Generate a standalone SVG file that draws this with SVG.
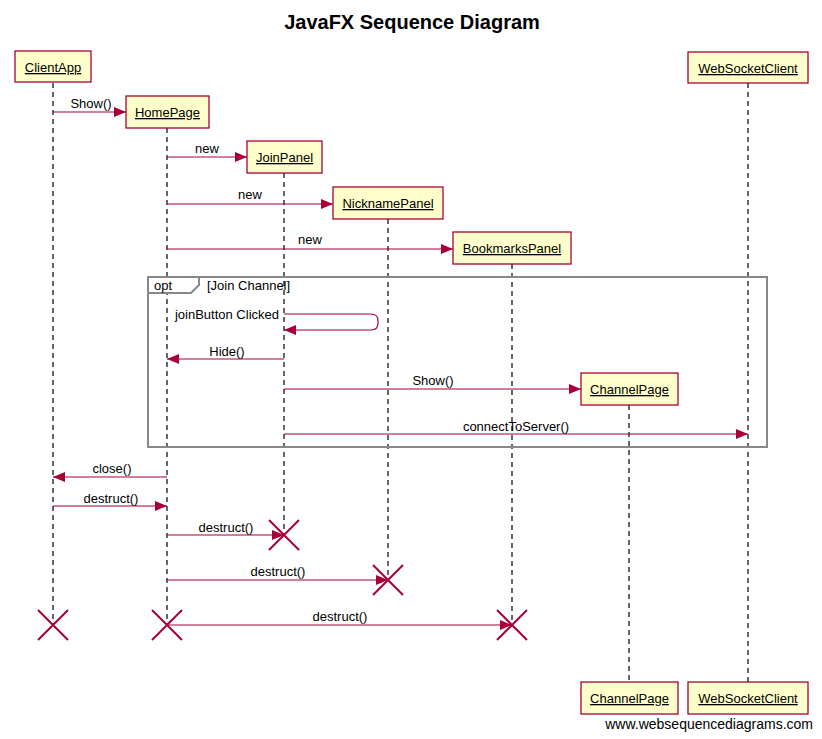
<svg xmlns="http://www.w3.org/2000/svg" width="822" height="739" viewBox="0 0 822 739">
<style>
text{font-family:"Liberation Sans",Arial,sans-serif;fill:#000}
.box rect{fill:#ffffcc;stroke:#a80036;stroke-width:1.3}
.box text{font-size:13px;text-anchor:middle;text-decoration:underline}
.life{stroke:#000;stroke-width:1.2;stroke-dasharray:5,4;fill:none}
.msg{stroke:#a80036;stroke-width:1.2;fill:none}
.lbl{font-size:13px;text-anchor:middle}
.x{stroke:#a80036;stroke-width:2;fill:none}
</style>
<defs>
<marker id="ah" markerWidth="12" markerHeight="10" refX="12" refY="5" orient="auto" markerUnits="userSpaceOnUse">
<path d="M0,0 L12,5 L0,10 Z" fill="#a80036"/>
</marker>
</defs>
<rect width="822" height="739" fill="#fff"/>
<text x="412" y="29" font-size="20" font-weight="bold" text-anchor="middle">JavaFX Sequence Diagram</text>

<g id="lifelines">
<line class="life" x1="53" y1="83" x2="53" y2="625"/>
<line class="life" x1="167" y1="128" x2="167" y2="625"/>
<line class="life" x1="284" y1="173" x2="284" y2="535"/>
<line class="life" x1="388" y1="219" x2="388" y2="580"/>
<line class="life" x1="512" y1="264" x2="512" y2="625"/>
<line class="life" x1="629" y1="405" x2="629" y2="682"/>
<line class="life" x1="748" y1="83" x2="748" y2="682"/>
</g>

<g id="opt-frame">
<rect x="148" y="277" width="619" height="170" fill="none" stroke="#888" stroke-width="2"/>
<path d="M148,277 H199 V285 L191,293 H148 Z" fill="#fff" stroke="#888" stroke-width="2"/>
<text x="154" y="290" font-size="13">opt</text>
<text x="207" y="290" font-size="13">[Join Channel]</text>
</g>

<g id="ClientApp" class="box"><rect x="15" y="51" width="76" height="31"/><text x="53" y="72">ClientApp</text></g>
<g id="HomePage" class="box"><rect x="126" y="96" width="83" height="32"/><text x="167.5" y="117">HomePage</text></g>
<g id="JoinPanel" class="box"><rect x="247" y="141" width="75" height="32"/><text x="284.5" y="162">JoinPanel</text></g>
<g id="NicknamePanel" class="box"><rect x="333" y="187" width="110" height="32"/><text x="388" y="208">NicknamePanel</text></g>
<g id="BookmarksPanel" class="box"><rect x="453" y="232" width="118" height="32"/><text x="512" y="253">BookmarksPanel</text></g>
<g id="ChannelPage" class="box"><rect x="581" y="373" width="97" height="32"/><text x="629.5" y="394">ChannelPage</text></g>
<g id="WebSocketClient" class="box"><rect x="688" y="52" width="120" height="31"/><text x="748" y="73">WebSocketClient</text></g>
<g id="ChannelPage-foot" class="box"><rect x="581" y="682" width="97" height="32"/><text x="629.5" y="703">ChannelPage</text></g>
<g id="WebSocketClient-foot" class="box"><rect x="688" y="682" width="120" height="32"/><text x="748" y="703">WebSocketClient</text></g>

<g id="connectors">
<line class="msg" x1="53" y1="112" x2="126" y2="112" marker-end="url(#ah)"/>
<text class="lbl" x="91" y="108">Show()</text>
<line class="msg" x1="167" y1="157" x2="247" y2="157" marker-end="url(#ah)"/>
<text class="lbl" x="207" y="153">new</text>
<line class="msg" x1="167" y1="204" x2="333" y2="204" marker-end="url(#ah)"/>
<text class="lbl" x="250" y="199">new</text>
<line class="msg" x1="167" y1="249" x2="453" y2="249" marker-end="url(#ah)"/>
<text class="lbl" x="310" y="244">new</text>
<path class="msg" d="M284,314 H371 Q378,314 378,321 V323 Q378,330 371,330 H284" marker-end="url(#ah)"/>
<text x="279" y="319" font-size="13" text-anchor="end">joinButton Clicked</text>
<line class="msg" x1="284" y1="359" x2="167" y2="359" marker-end="url(#ah)"/>
<text class="lbl" x="227" y="356">Hide()</text>
<line class="msg" x1="284" y1="389" x2="581" y2="389" marker-end="url(#ah)"/>
<text class="lbl" x="433" y="385">Show()</text>
<line class="msg" x1="284" y1="434" x2="748" y2="434" marker-end="url(#ah)"/>
<text class="lbl" x="516" y="431">connectToServer()</text>
<line class="msg" x1="167" y1="477" x2="53" y2="477" marker-end="url(#ah)"/>
<text class="lbl" x="112" y="473">close()</text>
<line class="msg" x1="53" y1="506" x2="167" y2="506" marker-end="url(#ah)"/>
<text class="lbl" x="111" y="503">destruct()</text>
<line class="msg" x1="167" y1="535" x2="284" y2="535" marker-end="url(#ah)"/>
<text class="lbl" x="226" y="532">destruct()</text>
<line class="msg" x1="167" y1="580" x2="388" y2="580" marker-end="url(#ah)"/>
<text class="lbl" x="278" y="576">destruct()</text>
<line class="msg" x1="167" y1="625" x2="512" y2="625" marker-end="url(#ah)"/>
<text class="lbl" x="340" y="621">destruct()</text>
</g>

<g id="destroy-marks">
<path class="x" d="M269,520 L299,550 M299,520 L269,550"/>
<path class="x" d="M373,565 L403,595 M403,565 L373,595"/>
<path class="x" d="M38,610 L68,640 M68,610 L38,640"/>
<path class="x" d="M152,610 L182,640 M182,610 L152,640"/>
<path class="x" d="M497,610 L527,640 M527,610 L497,640"/>
</g>

<text x="813" y="729" font-size="14" text-anchor="end">www.websequencediagrams.com</text>
</svg>
